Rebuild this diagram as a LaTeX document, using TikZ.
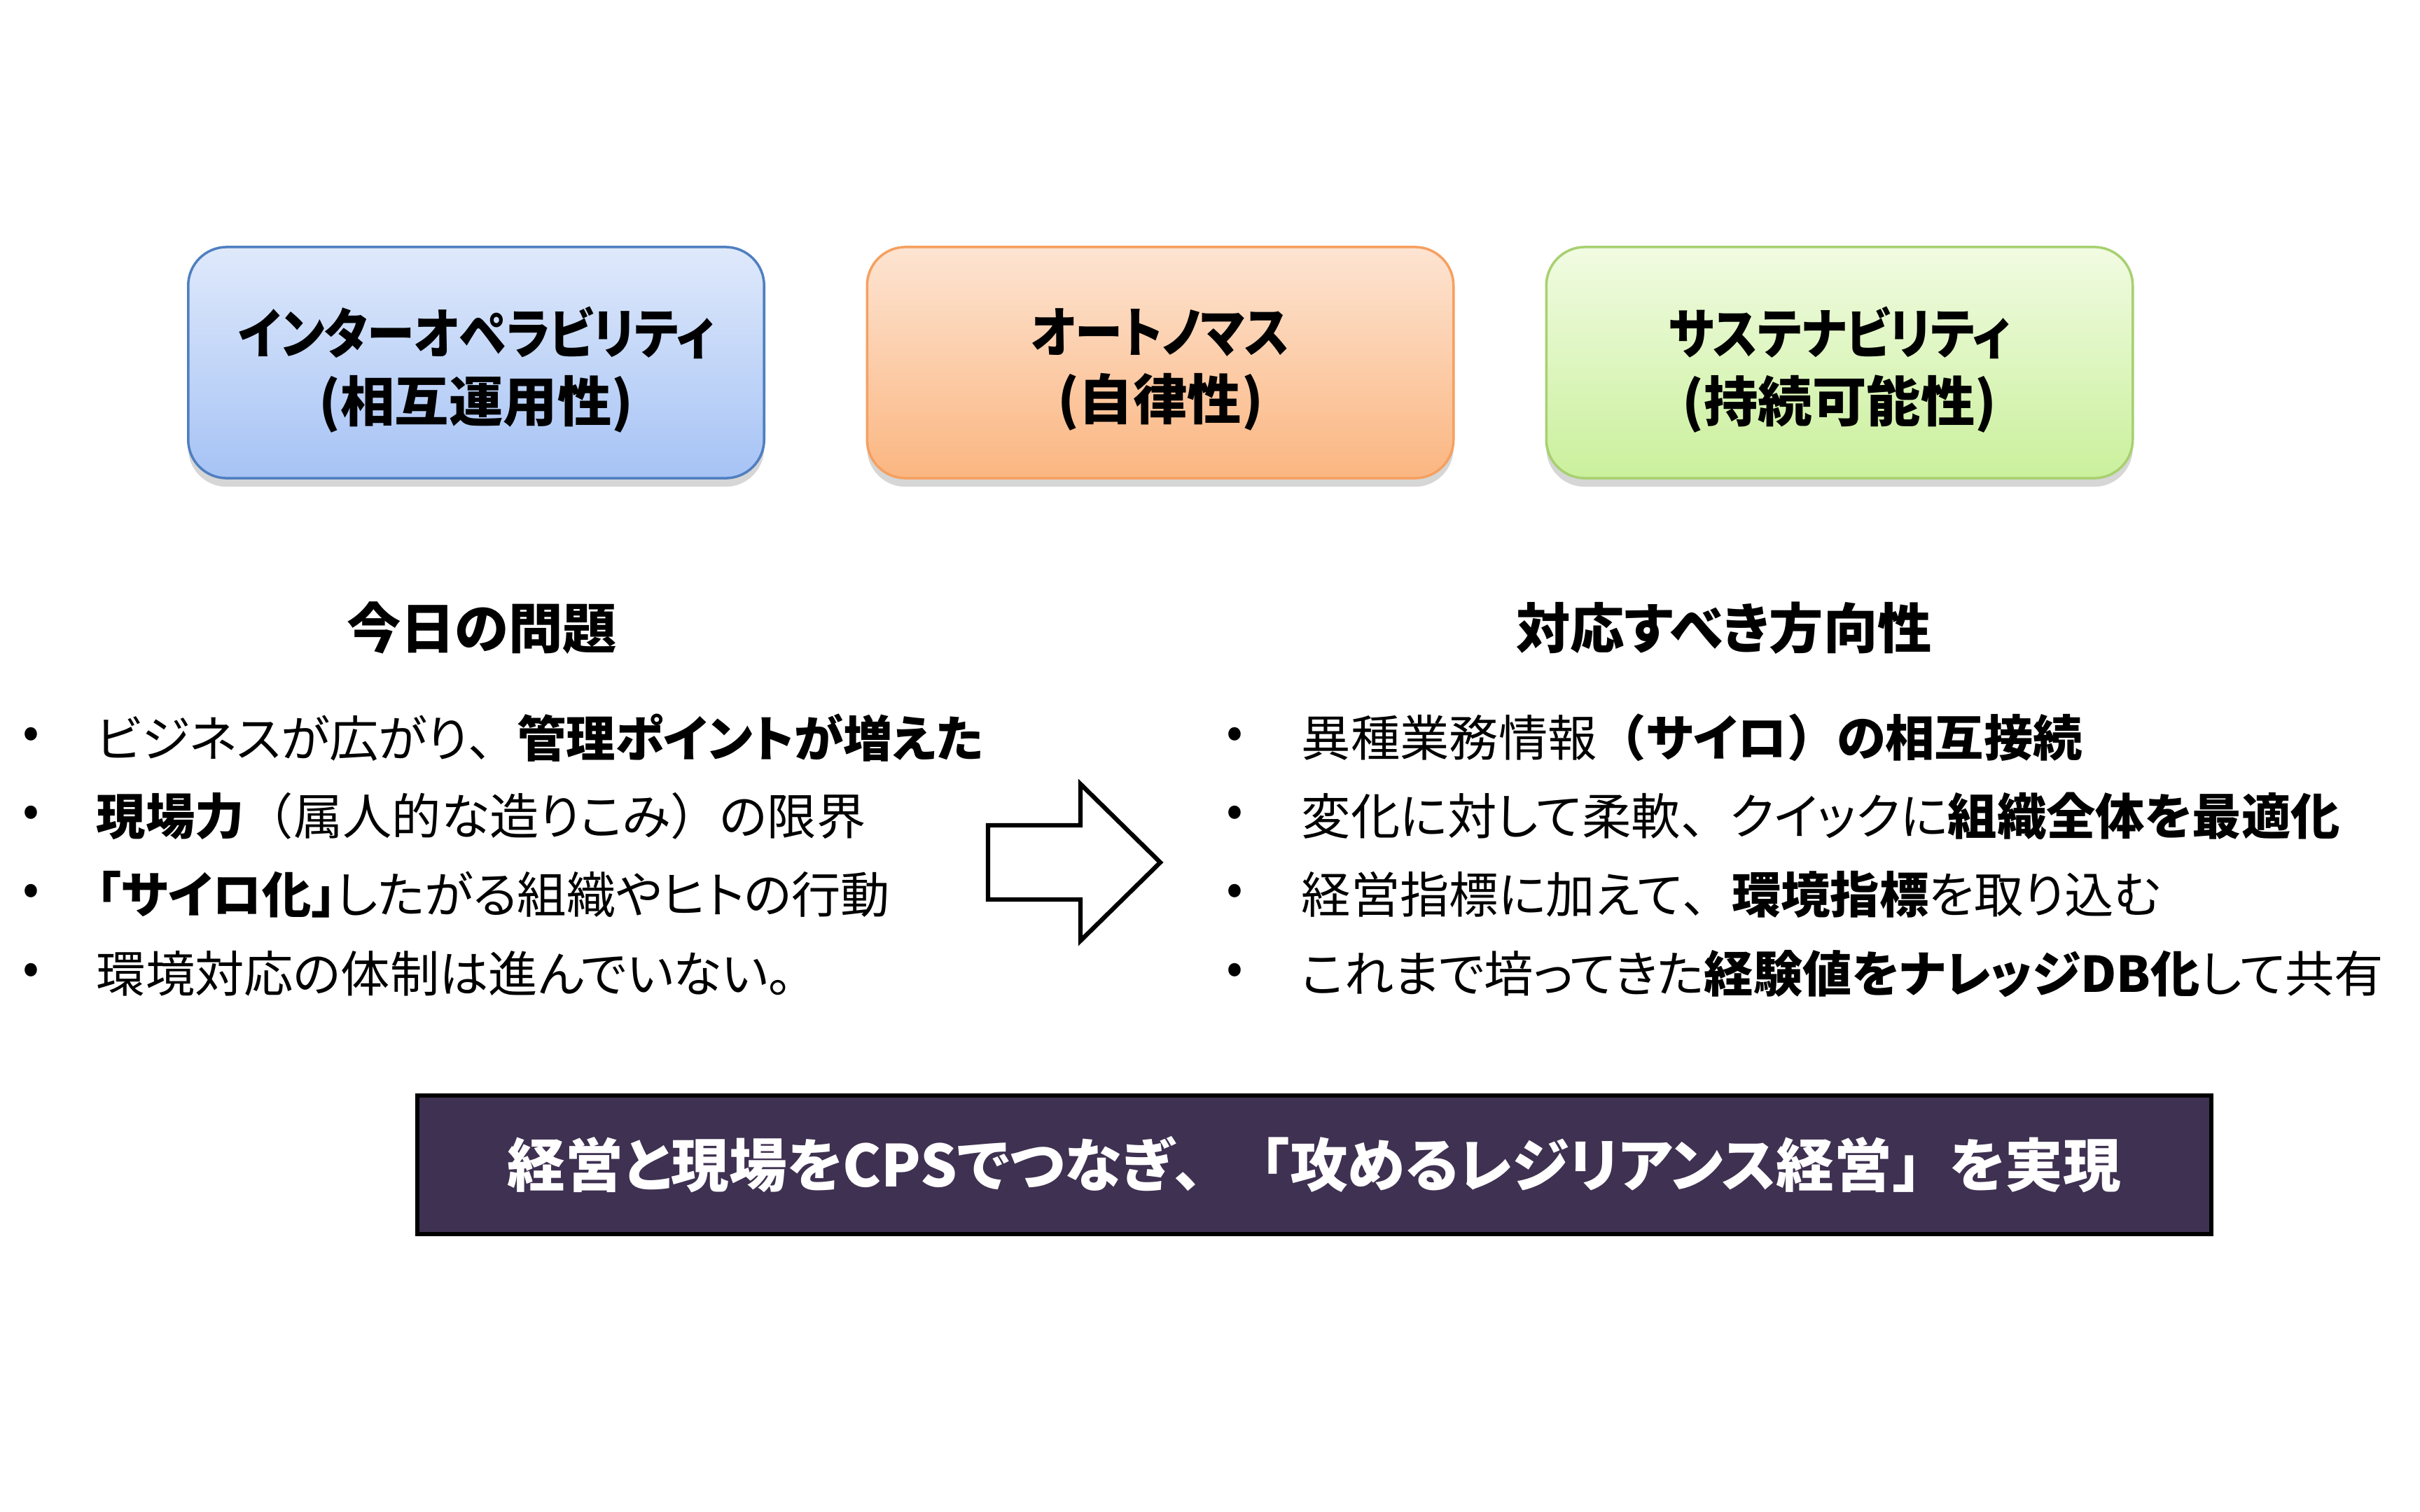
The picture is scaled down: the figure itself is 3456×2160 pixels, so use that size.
\documentclass[tikz,border=0pt]{standalone}
\usepackage{fontspec}
\setmainfont{Noto Sans CJK JP}[RawFeature={+palt}]
\newfontfamily\fw{Noto Sans CJK JP}
\newfontfamily\jpnarrow{Noto Sans CJK JP}[RawFeature={+palt}, FakeStretch=0.88]
\usetikzlibrary{shadows}
\definecolor{blueBorder}{HTML}{4F7FC0}
\definecolor{blueTop}{HTML}{DFE9FB}
\definecolor{blueBot}{HTML}{A6C3F5}
\definecolor{orBorder}{HTML}{F5A060}
\definecolor{orTop}{HTML}{FDE4D2}
\definecolor{orBot}{HTML}{FBB681}
\definecolor{grBorder}{HTML}{A8D070}
\definecolor{grTop}{HTML}{F1FBE2}
\definecolor{grBot}{HTML}{CAF09C}
\definecolor{purpleBox}{HTML}{3F3151}
\begin{document}
\begin{tikzpicture}[x=0.01cm,y=-0.01cm,
  catbox/.style={rounded corners=0.55cm, line width=1pt, minimum height=3.3cm,
    drop shadow={shadow xshift=0pt, shadow yshift=-3.5pt, opacity=0.16, fill=black}},
  boxtext/.style={align=center, inner sep=0pt, font=\fontsize{22}{27.5}\selectfont\bfseries},
  heading/.style={font=\fontsize{22}{26}\selectfont\bfseries, inner sep=0pt},
  item/.style={font=\fontsize{20}{24}\selectfont, anchor=west, inner sep=0pt},
  bullet/.style={font=\fontsize{20}{24}\selectfont, inner sep=0pt}]
\useasboundingbox (0,0) rectangle (3456,2160);
\fill[white] (0,0) rectangle (3456,2160);

\node[catbox, draw=blueBorder, top color=blueTop, bottom color=blueBot, minimum width=8.22cm] (b1) at (680,518) {};
\node[catbox, draw=orBorder, top color=orTop, bottom color=orBot, minimum width=8.37cm] (b2) at (1657,518) {};
\node[catbox, draw=grBorder, top color=grTop, bottom color=grBot, minimum width=8.37cm] (b3) at (2627,518) {};
\node[boxtext] (t1) at (680,528) {{\jpnarrow インターオペラビリティ}\\(相互運用性)};
\node[boxtext] (t2) at (1657,528) {{\jpnarrow オートノマス}\\(自律性)};
\node[boxtext] (t3) at (2627,528) {{\jpnarrow サステナビリティ}\\(持続可能性)};

\node[heading] (h1) at (688,897) {今日の問題};
\node[heading] (h2) at (2462,897) {対応すべき方向性};

\foreach \yy/\nm in {1054/l1,1166/l2,1278/l3,1391/l4}{
  \node[bullet] (\nm b) at (44,\yy) {•};
}
\node[item] (l1) at (137,1054) {ビジネスが広がり{\fw 、}\textbf{管理ポイントが増えた}};
\node[item] (l2) at (137,1166) {\textbf{現場力}{\fw （}属人的な造りこみ{\fw ）}の限界};
\node[item] (l3) at (137,1278) {\textbf{「サイロ化」}したがる組織やヒトの行動};
\node[item] (l4) at (137,1391) {環境対応の体制は進んでいない。};

\foreach \yy/\nm in {1054/r1,1166/r2,1278/r3,1391/r4}{
  \node[bullet] (\nm b) at (1763,\yy) {•};
}
\node[item] (r1) at (1858,1054) {異種業務情報\textbf{{\fw （}サイロ{\fw ）}の相互接続}};
\node[item] (r2) at (1858,1166) {変化に対して柔軟{\fw 、}クイックに\textbf{組織全体を最適化}};
\node[item] (r3) at (1858,1278) {経営指標に加えて{\fw 、}\textbf{環境指標}を取り込む};
\node[item] (r4) at (1858,1391) {これまで培ってきた\textbf{経験値をナレッジDB化}して共有};

\draw[line width=1.8pt, line join=miter, fill=white]
  (1411,1179) -- (1543,1179) -- (1543,1120) -- (1657,1232) -- (1543,1344) -- (1543,1285) -- (1411,1285) -- cycle;

\node[draw=black, line width=1.6pt, fill=purpleBox, text=white, minimum width=25.61cm, minimum height=1.98cm,
  font=\fontsize{23.5}{27}\selectfont\bfseries] (bottom) at (1877,1664) {経営と現場をCPSでつなぎ{\fw 、「}攻めるレジリアンス経営{\fw 」}を実現};
\end{tikzpicture}
\end{document}
